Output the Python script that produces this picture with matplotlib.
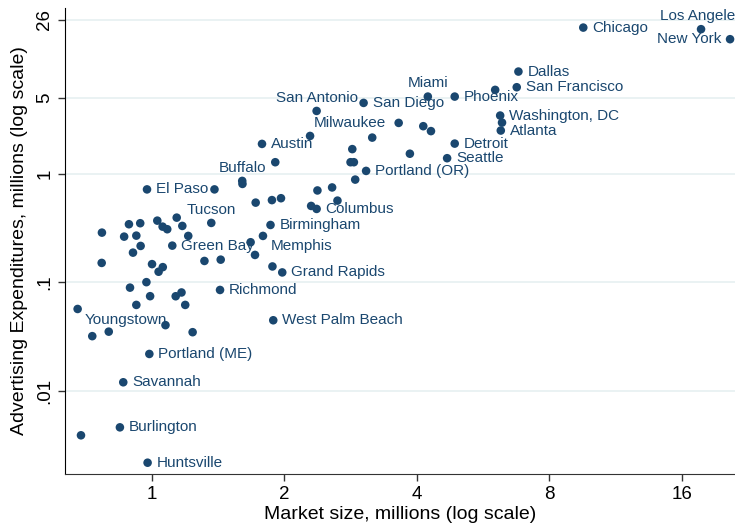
import matplotlib
matplotlib.use("Agg")
import matplotlib.pyplot as plt

plt.rcParams["font.family"] = ["Liberation Sans", "DejaVu Sans"]

# city labels ("" = unlabeled market), market size (millions), ad spending (millions)
cities = [
    "Los Angeles", "New York", "Chicago", "Dallas", "San Francisco", "Miami",
    "Phoenix", "San Antonio", "San Diego", "Washington, DC", "Atlanta",
    "Milwaukee", "Austin", "Detroit", "Seattle", "Portland (OR)", "Buffalo",
    "El Paso", "Tucson", "Columbus", "Birmingham", "Green Bay", "Memphis",
    "Grand Rapids", "Richmond", "Youngstown", "West Palm Beach",
    "Portland (ME)", "Savannah", "Burlington", "Huntsville",
] + [""] * 55

market = [
    17.70, 20.60, 9.56, 6.81, 6.75, 4.24,
    4.88, 2.37, 3.03, 6.19, 6.21,
    2.29, 1.781, 4.88, 4.69, 3.07, 1.606,
    0.976, 1.366, 2.37, 1.862, 1.114, 1.790,
    1.980, 1.430, 0.679, 1.889,
    0.988, 0.862, 0.847, 0.979,
    # unlabeled
    6.03, 6.25, 3.64, 4.14, 4.31, 3.17, 3.86, 2.856, 2.83, 2.88,
    2.90, 1.909, 1.608, 1.389, 2.38, 2.57, 2.643, 2.303, 1.723, 1.876,
    1.967, 1.678, 1.717, 1.881, 1.318, 1.435, 0.771, 0.888, 0.942, 0.866,
    0.923, 0.944, 0.907, 0.770, 1.030, 1.140, 1.059, 1.085, 1.174, 1.211,
    1.002, 1.060, 1.037, 0.973, 0.893, 0.992, 1.134, 1.169, 0.923, 1.192,
    1.075, 1.239, 0.733, 0.799, 0.691,
]

adv = [
    21.30, 17.23, 22.03, 8.68, 6.23, 5.11,
    5.11, 3.77, 4.47, 3.42, 2.49,
    2.22, 1.876, 1.888, 1.386, 1.059, 0.857,
    0.716, 0.352, 0.4735, 0.337, 0.2176, 0.2673,
    0.1234, 0.0851, 0.0569, 0.0448,
    0.02195, 0.01205, 0.00464, 0.002194,
    # unlabeled
    5.89, 2.945, 2.927, 2.73, 2.46, 2.144, 1.524, 1.680, 1.273, 1.273,
    0.881, 1.273, 0.804, 0.716, 0.700, 0.746, 0.5645, 0.5044, 0.541, 0.5706,
    0.5939, 0.2338, 0.1787, 0.140, 0.1573, 0.1617, 0.2866, 0.3423, 0.3498, 0.2633,
    0.2689, 0.2162, 0.1876, 0.1509, 0.3694, 0.3937, 0.3254, 0.3080, 0.3303, 0.2673,
    0.1471, 0.138, 0.1252, 0.1004, 0.0894, 0.0746, 0.0745, 0.0807, 0.0620, 0.0620,
    0.0404, 0.0348, 0.0320, 0.0352, 0.00392,
]

x_ticks = [1, 2, 4, 8, 16]
y_ticks = [0.01, 0.1, 1, 5, 26]
y_ticklabels = [".01", ".1", "1", "5", "26"]

# label clock positions (Stata style), default 3 o'clock
label_pos = {"Los Angeles": 12, "New York": 9, "Miami": 12, "San Antonio": 12,
             "Buffalo": 12, "Tucson": 12, "Milwaukee": 1, "Memphis": 4,
             "Youngstown": 4}
offsets = {3: (6.5, 0, "left"), 12: (0, 9.5, "center"), 9: (-6, 0, "right"),
           4: (5.4, -7.6, "left"), 1: (2.9, 9.4, "left")}

navy = "#1a476f"

fig = plt.figure(figsize=(7.35, 5.29), dpi=100)
ax = fig.add_axes([0.0884, 0.104, 0.9116, 0.881])

ax.set_xscale("log")
ax.set_yscale("log")
ax.set_xlim(0.6355, 21.14)
ax.set_ylim(0.001728, 33.4)

for yt in y_ticks:
    ax.axhline(yt, color="#eaf2f3", lw=1.4, zorder=0)

ax.scatter(market, adv, s=38, color=navy, edgecolors="none", zorder=3)

for name, mx, my in zip(cities, market, adv):
    if not name:
        continue
    dx, dy, ha = offsets[label_pos.get(name, 3)]
    ax.annotate(name, (mx, my), xytext=(dx, dy), textcoords="offset points",
                ha=ha, va="center", fontsize=11, color=navy, zorder=4,
                annotation_clip=False)

ax.set_xticks(x_ticks)
ax.set_xticklabels([str(t) for t in x_ticks])
ax.set_yticks(y_ticks)
ax.set_yticklabels(y_ticklabels, rotation=90, va="center")
ax.minorticks_off()
ax.tick_params(axis="both", direction="out", length=5, width=1, labelsize=13.5,
               color="#333333")

for side in ["top", "right"]:
    ax.spines[side].set_visible(False)
ax.spines["left"].set_color("black")
ax.spines["bottom"].set_color("#333333")

ax.set_xlabel("Market size, millions (log scale)", fontsize=14, labelpad=2)
ax.set_ylabel("Advertising Expenditures, millions (log scale)", fontsize=14,
              labelpad=6)

plt.savefig("out.png", dpi=100)
plt.close()
